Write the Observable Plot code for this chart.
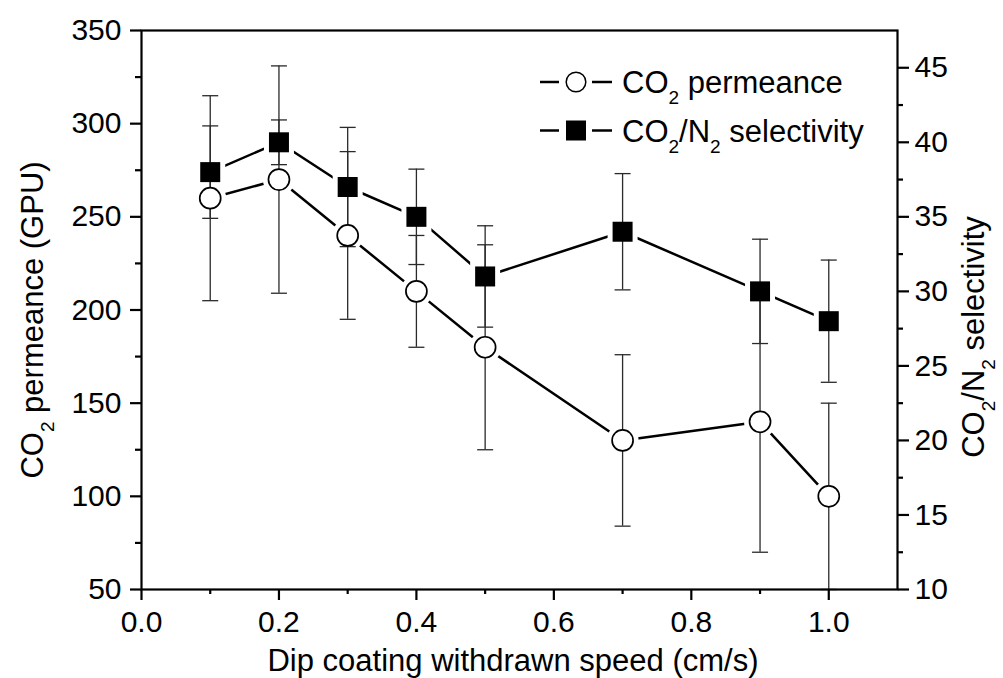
<!DOCTYPE html>
<html>
<head>
<meta charset="utf-8">
<script src="https://cdn.jsdelivr.net/npm/d3@7"></script>
<script src="https://cdn.jsdelivr.net/npm/@observablehq/plot@0.6"></script>
<style>
  html, body { margin: 0; padding: 0; background: white; }
</style>
</head>
<body>
<div id="chart"></div>
<script>
// ---- data ----
const speeds = [0.1, 0.2, 0.3, 0.4, 0.5, 0.7, 0.9, 1.0];
const permeance = [260, 270, 240, 210, 180, 130, 140, 100];
const permeanceErr = [55, 61, 45, 30, 55, 46, 70, 50];
const selectivity = [38, 40, 37, 35, 31, 34, 30, 28];
const selectivityErr = [3.1, 1.5, 4.0, 3.2, 3.4, 3.9, 3.5, 4.1];

const xTicks = [0, 0.2, 0.4, 0.6, 0.8, 1.0];
const xMinorTicks = [0.1, 0.3, 0.5, 0.7, 0.9];
const leftTicks = [50, 100, 150, 200, 250, 300, 350];
const leftMinorTicks = [75, 125, 175, 225, 275, 325];
const rightTicks = [10, 15, 20, 25, 30, 35, 40, 45];
const rightMinorTicks = [12.5, 17.5, 22.5, 27.5, 32.5, 37.5, 42.5];

const xDomain = [0, 1.1];
const leftDomain = [50, 350];
const rightDomain = [10, 47.5];

// map selectivity onto the permeance (left) scale
const k = (leftDomain[1] - leftDomain[0]) / (rightDomain[1] - rightDomain[0]);
const toLeft = s => leftDomain[0] + (s - rightDomain[0]) * k;
const fromLeft = v => rightDomain[0] + (v - leftDomain[0]) / k;

const permRows = speeds.map((x, i) => ({x, v: permeance[i], lo: permeance[i] - permeanceErr[i], hi: permeance[i] + permeanceErr[i]}));
const selRows = speeds.map((x, i) => ({x, v: toLeft(selectivity[i]), lo: toLeft(selectivity[i] - selectivityErr[i]), hi: toLeft(selectivity[i] + selectivityErr[i])}));
const allRows = permRows.concat(selRows);

const capSymbol = {
  draw(context, size) {
    const w = Math.sqrt(size / Math.PI);
    context.moveTo(-w, 0);
    context.lineTo(w, 0);
  }
};

const FONT = "'Liberation Sans', Arial, Helvetica, sans-serif";
const ink = "#000";
const barInk = "#2a2a2a";

const plot = Plot.plot({
  width: 1003,
  height: 678,
  marginLeft: 141,
  marginRight: 106,
  marginTop: 30,
  marginBottom: 89,
  style: {fontFamily: FONT, fontSize: "30px", background: "white", color: ink},
  x: {domain: xDomain, label: null},
  y: {domain: leftDomain, label: null},
  marks: [
    Plot.line(permRows, {x: "x", y: "v", stroke: ink, strokeWidth: 2.5}),
    Plot.line(selRows, {x: "x", y: "v", stroke: ink, strokeWidth: 2.5}),
    // white halos leave the small gaps between line and marker
    Plot.dot(permRows, {x: "x", y: "v", r: 16, fill: "white", stroke: "none"}),
    Plot.dot(selRows, {x: "x", y: "v", symbol: "square", r: Math.sqrt(900 / Math.PI), fill: "white", stroke: "none"}),
    // error bars
    Plot.ruleX(allRows, {x: "x", y1: "lo", y2: "hi", stroke: barInk, strokeWidth: 1.3}),
    Plot.dot(allRows, {x: "x", y: "lo", symbol: capSymbol, r: 8, fill: "none", stroke: barInk, strokeWidth: 1.3}),
    Plot.dot(allRows, {x: "x", y: "hi", symbol: capSymbol, r: 8, fill: "none", stroke: barInk, strokeWidth: 1.3}),
    // markers
    Plot.dot(permRows, {x: "x", y: "v", r: 10.5, fill: "white", stroke: ink, strokeWidth: 1.7}),
    Plot.dot(selRows, {x: "x", y: "v", symbol: "square", r: Math.sqrt(400 / Math.PI), fill: ink, stroke: "none"}),
    Plot.frame({stroke: ink, strokeWidth: 2.2}),
    // axes
    Plot.axisX({ticks: xTicks, tickFormat: d3.format(".1f"), tickSize: 11, tickPadding: 10, strokeWidth: 2.2, label: null}),
    Plot.axisX({ticks: xMinorTicks, tickFormat: () => "", tickSize: 5, strokeWidth: 2.2, label: null}),
    Plot.axisY({anchor: "left", ticks: leftTicks, tickFormat: d3.format("d"), tickSize: 11, tickPadding: 9, strokeWidth: 2.2, label: null}),
    Plot.axisY({anchor: "left", ticks: leftMinorTicks, tickFormat: () => "", tickSize: 6, strokeWidth: 2.2, label: null}),
    Plot.axisY({anchor: "right", ticks: rightTicks.map(toLeft), tickFormat: v => d3.format("d")(Math.round(fromLeft(v))), tickSize: 11, tickPadding: 6, strokeWidth: 2.2, label: null}),
    Plot.axisY({anchor: "right", ticks: rightMinorTicks.map(toLeft), tickFormat: () => "", tickSize: 5, strokeWidth: 2.2, label: null})
  ]
});

document.getElementById("chart").appendChild(plot);

// ---- titles and legend (text with subscripts) ----
const svg = d3.select(plot);
const titleSize = 31, subSize = 19, subShift = 11;

function richText(sel, parts) {
  parts.forEach(p => {
    const t = sel.append("tspan").text(p.t);
    if (p.sub) t.attr("font-size", subSize).attr("dy", subShift);
    else t.attr("font-size", titleSize).attr("dy", p.after ? -subShift : 0);
  });
}

const permLabel = [{t: "CO"}, {t: "2", sub: true}, {t: " permeance", after: true}];
const selLabel = [{t: "CO"}, {t: "2", sub: true}, {t: "/N", after: true}, {t: "2", sub: true}, {t: " selectivity", after: true}];

// x title
svg.append("text")
  .attr("x", 513).attr("y", 671)
  .attr("text-anchor", "middle").attr("font-family", FONT).attr("font-size", titleSize).attr("fill", ink)
  .text("Dip coating withdrawn speed (cm/s)");

// left title
const lt = svg.append("text")
  .attr("transform", "translate(43,320) rotate(-90)")
  .attr("text-anchor", "middle").attr("font-family", FONT).attr("fill", ink);
richText(lt, [{t: "CO"}, {t: "2", sub: true}, {t: " permeance (GPU)", after: true}]);

// right title
const rt = svg.append("text")
  .attr("transform", "translate(984,337) rotate(-90)")
  .attr("text-anchor", "middle").attr("font-family", FONT).attr("fill", ink);
richText(rt, selLabel);

// legend
const legend = svg.append("g");
const rows = [{y: 82, label: permLabel, sym: "circle"}, {y: 130.5, label: selLabel, sym: "square"}];
rows.forEach(r => {
  legend.append("line").attr("x1", 540).attr("x2", 559).attr("y1", r.y).attr("y2", r.y).attr("stroke", ink).attr("stroke-width", 2.5);
  legend.append("line").attr("x1", 592).attr("x2", 612).attr("y1", r.y).attr("y2", r.y).attr("stroke", ink).attr("stroke-width", 2.5);
  if (r.sym === "circle") {
    legend.append("circle").attr("cx", 576).attr("cy", r.y).attr("r", 9.8).attr("fill", "white").attr("stroke", ink).attr("stroke-width", 1.5);
  } else {
    legend.append("rect").attr("x", 566).attr("y", r.y - 10).attr("width", 20).attr("height", 20).attr("fill", ink);
  }
  const t = legend.append("text").attr("x", 622).attr("y", r.y + 11)
    .attr("text-anchor", "start").attr("font-family", FONT).attr("fill", ink);
  richText(t, r.label);
});
</script>
</body>
</html>
